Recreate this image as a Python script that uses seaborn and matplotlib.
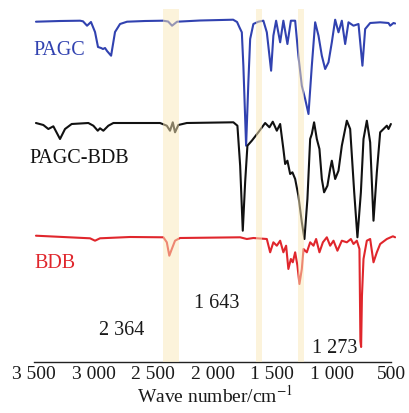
import matplotlib
matplotlib.use("Agg")
import matplotlib.pyplot as plt
import seaborn as sns
import numpy as np
import pandas as pd

# FTIR transmittance (%), baseline ~100, read per spectrum
pagc_wn = [3486, 3284, 3116, 3091, 3057, 3024, 2990, 2965, 2939, 2923, 2906, 2889, 2855, 2822,
           2780, 2721, 2570, 2419, 2376, 2343, 2301, 2108, 1830, 1797, 1777, 1757, 1744, 1721,
           1702, 1687, 1660, 1618, 1576, 1547, 1511, 1492, 1469, 1435, 1408, 1374, 1345, 1309,
           1282, 1253, 1225, 1197, 1169, 1141, 1113, 1085, 1057, 1029, 1001, 973, 945, 917, 889,
           861, 819, 777, 744, 721, 679, 595, 525, 511, 483, 469]
pagc_t = [99.3, 100, 100.3, 99.7, 95.3, 99, 89, 74, 73, 72, 73, 70, 65.3, 89,
          97, 99.3, 100, 100.3, 99.5, 95.3, 99.3, 100.5, 101.3, 99, 93.7, 88.7, 55.3, -24.7,
          39, 82, 97, 99.3, 100.3, 88.7, 50.3, 85.3, 100.3, 78.7, 100.3, 77, 100.3, 100.3,
          65.3, 35.3, 22, 7, 55.3, 98.7, 85.3, 65.3, 52, 58.7, 78.7, 101.3, 88.7, 100.3, 77,
          98.7, 95.3, 97, 55.3, 92, 98, 98.7, 98, 95.3, 98, 97.5]

blend_wn = [3486, 3424, 3382, 3340, 3284, 3242, 3186, 3046, 3004, 2967, 2948, 2920, 2878, 2836,
            2444, 2387, 2360, 2337, 2318, 2290, 2219, 1828, 1794, 1771, 1749, 1729, 1710, 1673,
            1618, 1561, 1525, 1497, 1463, 1435, 1408, 1393, 1374, 1351, 1332, 1309, 1282, 1253,
            1231, 1206, 1183, 1169, 1150, 1127, 1105, 1085, 1066, 1038, 1015, 1001, 973, 945,
            917, 875, 847, 813, 786, 757, 735, 707, 679, 651, 623, 595, 567, 539, 525, 505]
blend_t = [100, 98, 94, 96.7, 84, 94, 99, 100, 97.3, 92.3, 94.7, 92.3, 97.3, 100,
           100, 97.3, 92.3, 100.7, 90.7, 98, 100, 100.7, 97.3, 57.3, -7.7, 41, 77.3, 82.3,
           90.7, 100, 95.7, 101.3, 92.3, 99, 74, 59, 62.3, 49, 50.7, 44, 27.3, 0.7,
           -16, 24, 84, 89, 100.7, 84, 74, 44, 30.7, 37.3, 54, 62.3, 44, 52.3,
           77.3, 102.3, 94, 30.7, -14.3, 30.7, 84, 102.3, 80.7, 2.3, 50.7, 90.7, 94, 97.3, 94, 99]

bdb_wn = [3486, 3032, 2990, 2948, 2696, 2416, 2387, 2366, 2345, 2318, 2276, 1771, 1715, 1660,
          1547, 1519, 1492, 1463, 1435, 1408, 1385, 1366, 1345, 1329, 1309, 1290, 1273, 1253,
          1239, 1211, 1183, 1155, 1133, 1105, 1076, 1043, 1015, 987, 954, 917, 875, 841, 819,
          791, 769, 761, 755, 748, 735, 707, 679, 651, 623, 595, 539, 488, 469]
bdb_t = [100.3, 97.7, 95.3, 97.7, 99, 98.7, 93.7, 80.3, 87, 95.3, 98, 98.7, 97, 98,
         97, 83.7, 93.7, 90.3, 95.3, 83.7, 90.3, 67, 77, 73.7, 83.7, 70.3, 52, 67,
         87, 83.7, 93.7, 90.3, 97, 83.7, 93.7, 98.7, 90.3, 95.3, 85.3, 95.3, 93.7, 97, 92,
         95.3, 87, -5, -11, 40, 77, 95.3, 97, 73.7, 83.7, 92, 97, 99.7, 98.7]

series_names = ["PAGC", "PAGC-BDB", "BDB"]
series_colors = ["#3142B0", "#111111", "#E0262C"]

# highlighted absorption bands (cm-1) and their labels
band_ranges = [(2416, 2282), (1634, 1584), (1282, 1231)]
band_labels = ["2 364", "1 643", "1 273"]

tick_values = [3500, 3000, 2500, 2000, 1500, 1000, 500]
tick_labels = ["3 500", "3 000", "2 500", "2 000", "1 500", "1 000", "500"]

sns.set_style("white")
plt.rcParams["font.family"] = ["Liberation Serif", "DejaVu Serif"]
plt.rcParams["mathtext.fontset"] = "stix"

fig = plt.figure(figsize=(4.09, 4.14), dpi=100)
ax = fig.add_axes([34.3 / 409, 51 / 414, (396 - 34.3) / 409, 353 / 414])

# vertical offsets stack the three spectra
offsets = [241, 139, 26]
frames = []
for name, wn, t, off in zip(series_names, [pagc_wn, blend_wn, bdb_wn],
                            [pagc_t, blend_t, bdb_t], offsets):
    frames.append(pd.DataFrame({"wn": wn, "y": np.asarray(t) + off, "sample": name}))
df = pd.concat(frames, ignore_index=True)

sns.lineplot(data=df, x="wn", y="y", hue="sample", palette=dict(zip(series_names, series_colors)),
             sort=False, estimator=None, linewidth=1.5, legend=False, ax=ax, zorder=2)

for lo, hi in band_ranges:
    ax.axvspan(lo, hi, color="#FBE9B8", alpha=0.5, lw=0, zorder=3)

ax.set_xlim(3500, 462)
ax.set_ylim(0, 353)

# sample names
ax.text(3292, 308, "PAGC", color=series_colors[0], fontsize=14.5, ha="center", va="baseline")
ax.text(3120, 200, "PAGC-BDB", color=series_colors[1], fontsize=14.5, ha="center", va="baseline")
ax.text(3330, 95, "BDB", color=series_colors[2], fontsize=14.5, ha="center", va="baseline")

# band annotations
for (x, y), lab in zip([(2767, 28), (1969, 54.7), (977, 10.3)], band_labels):
    ax.text(x, y, lab, color="#1a1a1a", fontsize=14.5, ha="center", va="baseline")

for side in ["top", "right", "left"]:
    ax.spines[side].set_visible(False)
ax.spines["bottom"].set_bounds(500, 3500)
ax.spines["bottom"].set_color("#222222")
ax.spines["bottom"].set_linewidth(1.0)
ax.set_yticks([])
ax.set_xticks(tick_values)
ax.set_xticklabels(tick_labels, fontsize=14)
ax.tick_params(axis="x", direction="in", length=4, width=1.0, pad=2, colors="#222222",
               labelcolor="#1a1a1a")
ax.set_xlabel("Wave number/cm$^{-1}$", fontsize=14, color="#1a1a1a", labelpad=1)
ax.set_ylabel("")

fig.savefig("out.png", dpi=100)
